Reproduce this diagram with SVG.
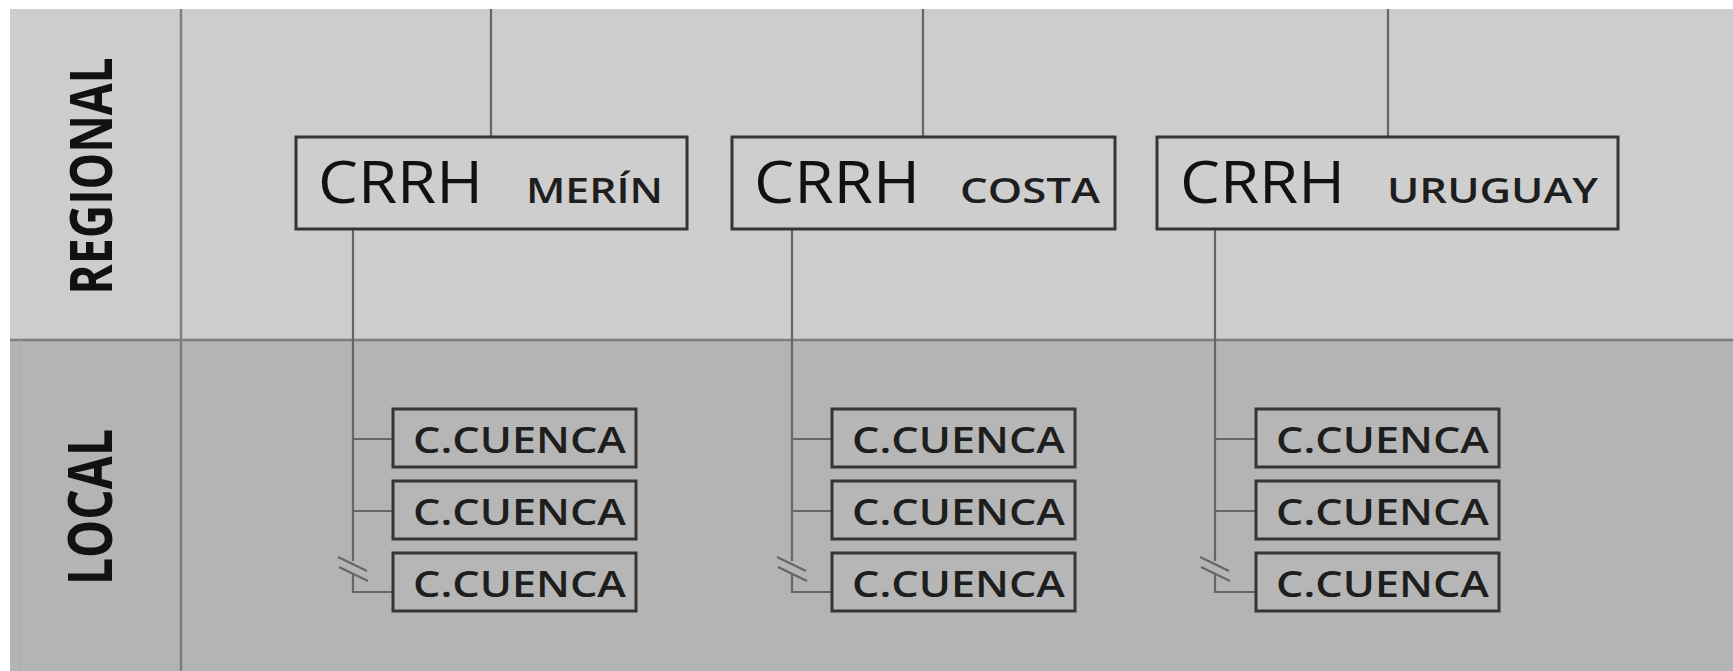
<svg xmlns="http://www.w3.org/2000/svg" width="1733" height="671" viewBox="0 0 1733 671">
<style>
.bg-up{fill:#cdcdcd}
.bg-lo{fill:#b4b4b4}
.div{stroke:#7e7e7e;stroke-width:2.5;fill:none}
.con{stroke:#666666;stroke-width:2.2;fill:none}
.box{stroke:#353535;stroke-width:3}
.boxu{fill:#cecece}
.boxl{fill:#b6b6b6}
.t{font-family:"Open Sans","Liberation Sans",sans-serif;fill:#111}
.big{font-size:58px;font-weight:500}
.sm{font-size:35px;font-weight:600;fill:#1e1e1e}
.cc{font-size:36px;font-weight:600;fill:#1e1e1e}
.lab{font-size:60px;font-weight:700}
</style>
<rect x="0" y="0" width="1733" height="671" fill="#ffffff"/>
<rect class="bg-up" x="10" y="9" width="1723" height="331"/>
<rect class="bg-lo" x="10" y="340" width="1723" height="331"/>
<g id="dividers">
<line class="div" x1="181" y1="9" x2="181" y2="671"/>
<line class="div" x1="10" y1="340" x2="1733" y2="340"/>
<line stroke="#a8a8a8" stroke-width="1" x1="20" y1="340" x2="20" y2="671"/>
</g>
<g id="label-regional">
<text class="t lab" transform="translate(112,176) rotate(-90) scale(0.77,1)" text-anchor="middle">REGIONAL</text>
</g>
<g id="label-local">
<text class="t lab" transform="translate(112,507) rotate(-90) scale(0.8,1)" text-anchor="middle">LOCAL</text>
</g>
<g id="connectors">
<line class="con" x1="491" y1="9" x2="491" y2="137"/>
<line class="con" x1="923" y1="9" x2="923" y2="137"/>
<line class="con" x1="1388" y1="9" x2="1388" y2="137"/>
<path class="con" d="M353 229 V561 M353 573 V592 H393 M353 439 H393 M353 511 H393 M338 557 L367 571 M339 567 L368 581"/>
<path class="con" d="M792 229 V561 M792 573 V592 H832 M792 439 H832 M792 511 H832 M777 557 L806 571 M778 567 L807 581"/>
<path class="con" d="M1215 229 V561 M1215 573 V592 H1256 M1215 439 H1256 M1215 511 H1256 M1200 557 L1229 571 M1201 567 L1230 581"/>
</g>
<g id="crrh-merin">
<rect class="box boxu" x="296" y="137" width="391" height="92"/>
<text class="t big" x="318" y="203" textLength="165" lengthAdjust="spacingAndGlyphs">CRRH</text>
<text class="t sm" x="526" y="203" textLength="137" lengthAdjust="spacingAndGlyphs">MERÍN</text>
</g>
<g id="crrh-costa">
<rect class="box boxu" x="732" y="137" width="383" height="92"/>
<text class="t big" x="754" y="203" textLength="166" lengthAdjust="spacingAndGlyphs">CRRH</text>
<text class="t sm" x="960" y="203" textLength="140" lengthAdjust="spacingAndGlyphs">COSTA</text>
</g>
<g id="crrh-uruguay">
<rect class="box boxu" x="1157" y="137" width="461" height="92"/>
<text class="t big" x="1180" y="203" textLength="165" lengthAdjust="spacingAndGlyphs">CRRH</text>
<text class="t sm" x="1387" y="203" textLength="211" lengthAdjust="spacingAndGlyphs">URUGUAY</text>
</g>
<g id="merin-cc1"><rect class="box boxl" x="393" y="409" width="243" height="58"/><text class="t cc" x="413" y="453" textLength="213" lengthAdjust="spacingAndGlyphs">C.CUENCA</text></g>
<g id="merin-cc2"><rect class="box boxl" x="393" y="481" width="243" height="58"/><text class="t cc" x="413" y="525" textLength="213" lengthAdjust="spacingAndGlyphs">C.CUENCA</text></g>
<g id="merin-cc3"><rect class="box boxl" x="393" y="553" width="243" height="58"/><text class="t cc" x="413" y="597" textLength="213" lengthAdjust="spacingAndGlyphs">C.CUENCA</text></g>
<g id="costa-cc1"><rect class="box boxl" x="832" y="409" width="243" height="58"/><text class="t cc" x="852" y="453" textLength="213" lengthAdjust="spacingAndGlyphs">C.CUENCA</text></g>
<g id="costa-cc2"><rect class="box boxl" x="832" y="481" width="243" height="58"/><text class="t cc" x="852" y="525" textLength="213" lengthAdjust="spacingAndGlyphs">C.CUENCA</text></g>
<g id="costa-cc3"><rect class="box boxl" x="832" y="553" width="243" height="58"/><text class="t cc" x="852" y="597" textLength="213" lengthAdjust="spacingAndGlyphs">C.CUENCA</text></g>
<g id="uruguay-cc1"><rect class="box boxl" x="1256" y="409" width="243" height="58"/><text class="t cc" x="1276" y="453" textLength="213" lengthAdjust="spacingAndGlyphs">C.CUENCA</text></g>
<g id="uruguay-cc2"><rect class="box boxl" x="1256" y="481" width="243" height="58"/><text class="t cc" x="1276" y="525" textLength="213" lengthAdjust="spacingAndGlyphs">C.CUENCA</text></g>
<g id="uruguay-cc3"><rect class="box boxl" x="1256" y="553" width="243" height="58"/><text class="t cc" x="1276" y="597" textLength="213" lengthAdjust="spacingAndGlyphs">C.CUENCA</text></g>
</svg>
